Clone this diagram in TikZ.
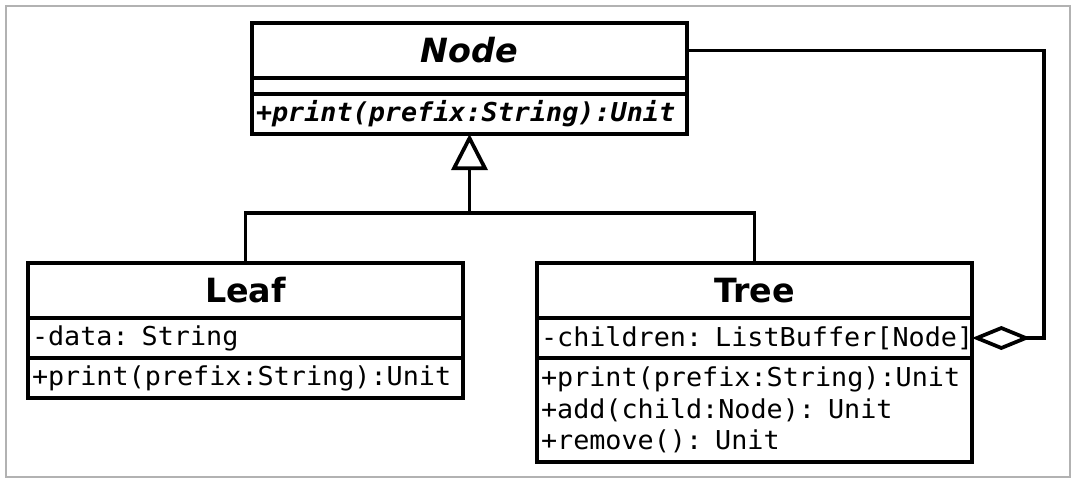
\documentclass[tikz,border=0pt]{standalone}
\usepackage{fontspec}
\setsansfont{DejaVu Sans}
\setmonofont{DejaVu Sans Mono}[FakeStretch=1.03]
\usetikzlibrary{arrows.meta,positioning}

\begin{document}
\begin{tikzpicture}[
    x=0.75pt,y=-0.75pt,
    line join=miter,
    umlline/.style={line width=2.8pt},
    classname/.style={draw,umlline,outer sep=0pt,inner sep=0pt,
      minimum width=326.25pt,minimum height=41.25pt,
      font=\fontsize{25}{30}\selectfont\sffamily\bfseries},
    compart/.style={draw,umlline,outer sep=0pt,inner xsep=3pt,inner ysep=0pt,
      text width=320.25pt,align=left,minimum height=30pt,
      font=\fontsize{19.5}{23.6}\selectfont\ttfamily},
    inherit/.style={umlline,-{Triangle[open,length=27pt,width=27pt]}},
    aggr/.style={umlline,{Diamond[open,length=44pt,width=18pt]}-},
]
% frame
\useasboundingbox (0,0) rectangle (1080,486);
\draw[gray!60,line width=1.2pt] (6,6) rectangle (1070,477);

% abstract class
\node[classname,font=\fontsize{25}{30}\selectfont\sffamily\bfseries\itshape] (base) at (469.5,50.5) {Node};
\node[compart,minimum height=12pt,below=0pt of base] (base-attr) {};
\node[compart,below=0pt of base-attr,font=\fontsize{19.5}{23.6}\selectfont\ttfamily\bfseries\itshape] (base-ops) {+print(prefix:String):Unit};

% leaf class
\node[classname] (leaf) at (245.5,290.5) {Leaf};
\node[compart,below=0pt of leaf] (leaf-attr) {-data: String};
\node[compart,below=0pt of leaf-attr] (leaf-ops) {+print(prefix:String):Unit};

% composite class
\node[classname] (tree) at (754.5,290.5) {Tree};
\node[compart,below=0pt of tree] (tree-attr) {\mbox{-children: ListBuffer[Node]}};
\node[compart,minimum height=78pt,below=0pt of tree-attr] (tree-ops) {+print(prefix:String):Unit\\+add(child:Node): Unit\\+remove(): Unit};

% generalization
\coordinate (split) at (469.5,213);
\draw[umlline] (leaf.north) |- (split) -| (tree.north);
\draw[inherit] (split) -- (base-ops.south);

% aggregation
\draw[aggr] (tree-attr.east) -- ++(72,0) |- (base.east);
\end{tikzpicture}
\end{document}
